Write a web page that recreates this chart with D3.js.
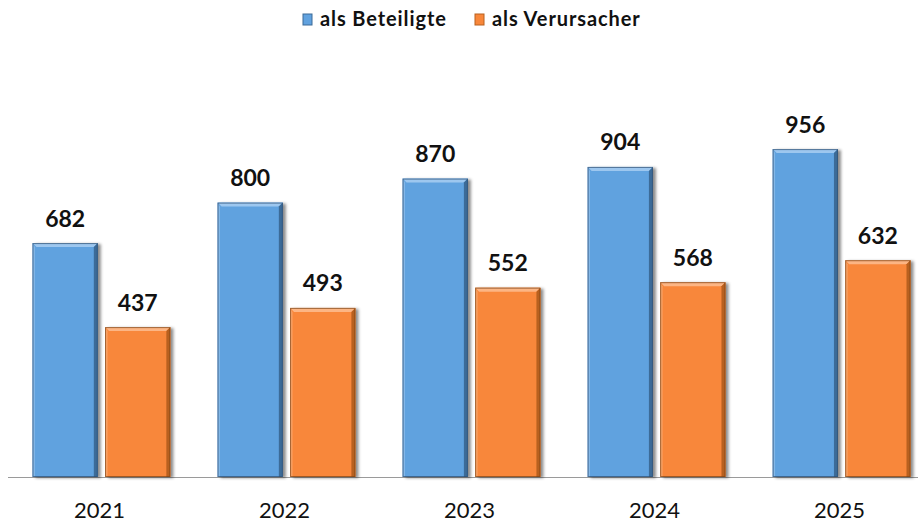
<!DOCTYPE html>
<meta charset="utf-8">
<style>
  body { margin: 0; background: #fff; }
  text { font-family: Lato, "Open Sans", sans-serif; fill: #111; }
</style>
<svg width="918" height="523"></svg>
<script src="https://cdn.jsdelivr.net/npm/d3@7"></script>
<script>

var years = ['2021', '2022', '2023', '2024', '2025']
var seriesNames = ['als Beteiligte', 'als Verursacher']
var beteiligte = [682, 800, 870, 904, 956]
var verursacher = [437, 493, 552, 568, 632]

var colors = {
    'als Beteiligte': { main: '#61a2df', light: '#9dc7ef', dark: '#3c6b98', line: '#2f4f70' },
    'als Verursacher': { main: '#f8873a', light: '#fcb584', dark: '#b8601f', line: '#7a4418' }
}

var svg = d3.select('svg')

var defs = svg.append('defs')
defs.append('filter').attr('id', 'shadow')
    .attr('x', '-20%').attr('y', '-10%').attr('width', '150%').attr('height', '130%')
    .append('feDropShadow')
    .attr('dx', 3).attr('dy', 1).attr('stdDeviation', 1.8)
    .attr('flood-color', '#000').attr('flood-opacity', 0.45)

var x0 = d3.scaleBand().domain(years).range([9, 934]).paddingInner(0.255).paddingOuter(0.127)
var x1 = d3.scaleBand().domain(seriesNames).range([0, x0.bandwidth()]).paddingInner(0.1)
var y = d3.scaleLinear().domain([0, 1000]).range([477, 134])

var rows = []
years.forEach(function (yr, i) {
    rows.push({ year: yr, series: seriesNames[0], value: beteiligte[i] })
    rows.push({ year: yr, series: seriesNames[1], value: verursacher[i] })
})

// baseline
svg.append('line')
    .attr('x1', 8).attr('x2', 918)
    .attr('y1', y(0) + 0.5).attr('y2', y(0) + 0.5)
    .attr('stroke', '#9a9a9a').attr('stroke-width', 1.2)

var bars = svg.append('g').attr('class', 'bars')
    .selectAll('g')
    .data(rows)
    .enter().append('g')

var b = 4
bars.each(function (d) {
    var g = d3.select(this)
    var bx = x0(d.year) + x1(d.series)
    var bw = x1.bandwidth()
    var by = y(d.value)
    var bh = y(0) - by
    var c = colors[d.series]
    g.append('rect')
        .attr('x', bx).attr('y', by).attr('width', bw).attr('height', bh)
        .attr('fill', c.main)
        .attr('filter', 'url(#shadow)')
    // top bevel
    g.append('path')
        .attr('d', 'M' + bx + ',' + by + 'L' + (bx + bw) + ',' + by + 'L' + (bx + bw - b) + ',' + (by + b) + 'L' + (bx + b) + ',' + (by + b) + 'Z')
        .attr('fill', c.light)
    // left bevel
    g.append('path')
        .attr('d', 'M' + bx + ',' + by + 'L' + (bx + b * 0.6) + ',' + (by + b) + 'L' + (bx + b * 0.6) + ',' + (by + bh) + 'L' + bx + ',' + (by + bh) + 'Z')
        .attr('fill', c.light).attr('opacity', 0.6)
    // right bevel
    g.append('path')
        .attr('d', 'M' + (bx + bw) + ',' + by + 'L' + (bx + bw) + ',' + (by + bh) + 'L' + (bx + bw - b) + ',' + (by + bh) + 'L' + (bx + bw - b) + ',' + (by + b) + 'Z')
        .attr('fill', c.dark)
    g.append('rect')
        .attr('x', bx + 0.5).attr('y', by + 0.5).attr('width', bw - 1).attr('height', bh - 1)
        .attr('fill', 'none').attr('stroke', c.line).attr('stroke-width', 1).attr('opacity', 0.7)
})

// value labels
svg.append('g').attr('class', 'labels')
    .selectAll('text')
    .data(rows)
    .enter().append('text')
    .attr('x', function (d) { return x0(d.year) + x1(d.series) + x1.bandwidth() / 2 })
    .attr('y', function (d) { return y(d.value) - 16.5 })
    .attr('text-anchor', 'middle')
    .attr('font-size', 23)
    .attr('font-weight', 'bold')
    .text(function (d) { return d.value })

// category labels
svg.append('g').attr('class', 'years')
    .selectAll('text')
    .data(years)
    .enter().append('text')
    .attr('x', function (d) { return x0(d) + x0.bandwidth() / 2 - 2 })
    .attr('y', 518)
    .attr('text-anchor', 'middle')
    .attr('font-size', 22)
    .attr('fill', '#222')
    .text(function (d) { return d })

// legend
var legendX = [303, 475]
var legend = svg.append('g').attr('class', 'legend')
    .selectAll('g')
    .data(seriesNames)
    .enter().append('g')
    .attr('transform', function (d, i) { return 'translate(' + legendX[i] + ',0)' })
legend.append('rect')
    .attr('x', 0).attr('y', 14).attr('width', 9).attr('height', 11)
    .attr('fill', function (d) { return colors[d].main })
    .attr('stroke', function (d) { return colors[d].dark }).attr('stroke-width', 1)
legend.append('text')
    .attr('x', 17).attr('y', 26)
    .attr('font-size', 20)
    .attr('font-weight', 'bold')
    .attr('letter-spacing', 0.9)
    .text(function (d) { return d })

</script>
